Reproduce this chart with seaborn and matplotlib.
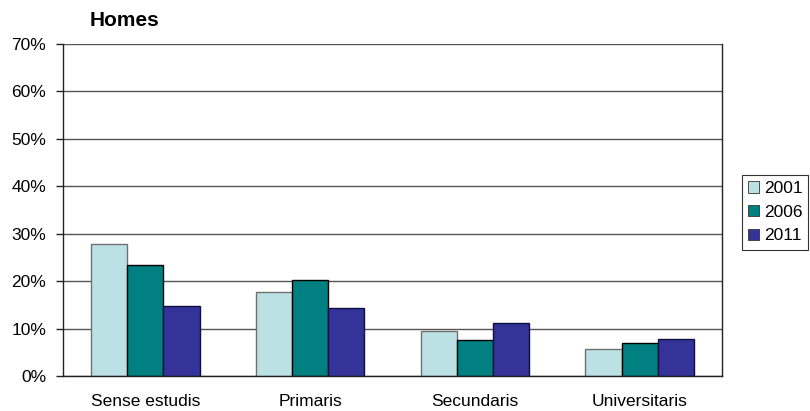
import matplotlib
matplotlib.use("Agg")
import matplotlib.pyplot as plt
import seaborn as sns
import pandas as pd
from matplotlib.ticker import FixedLocator, PercentFormatter

categories = ["Sense estudis", "Primaris", "Secundaris", "Universitaris"]
years = ["2001", "2006", "2011"]
values_2001 = [27.9, 17.8, 9.4, 5.7]
values_2006 = [23.5, 20.2, 7.5, 7.0]
values_2011 = [14.7, 14.3, 11.1, 7.8]
colors = ["#BCE1E5", "#008080", "#333399"]
edges = ["#707070", "#000000", "#101040"]

df = pd.DataFrame({
    "categoria": categories * 3,
    "any": [y for y in years for _ in categories],
    "valor": values_2001 + values_2006 + values_2011,
})

sns.set_theme(style="white")
plt.rcParams["font.family"] = ["Liberation Sans", "DejaVu Sans"]
plt.rcParams["text.color"] = "#000000"

W, H = 810, 411
fig = plt.figure(figsize=(W / 100, H / 100), dpi=100)
ax = fig.add_axes([63 / W, 1 - 376 / H, (722 - 63) / W, (376 - 44) / H])

sns.barplot(data=df, x="categoria", y="valor", hue="any", hue_order=years,
            palette=colors, width=0.66, ax=ax, saturation=1, legend=True)

for i, container in enumerate(ax.containers):
    for patch in container:
        patch.set_edgecolor(edges[i])
        patch.set_linewidth(1.0)

ax.set_xlim(-0.5, 3.5)
ax.set_ylim(0, 70)
ax.yaxis.set_major_locator(FixedLocator(range(0, 71, 10)))
ax.yaxis.set_major_formatter(PercentFormatter(decimals=0))
ax.grid(axis="y", color="#555555", linewidth=1.0)
ax.set_axisbelow(True)
ax.set_xlabel("")
ax.set_ylabel("")

for s in ax.spines.values():
    s.set_color("#222222")
    s.set_linewidth(1.0)
ax.spines["top"].set_visible(False)

# x ticks at the category boundaries, labels centred under the groups
ax.set_xticks([0, 1, 2, 3])
ax.set_xticklabels(categories, fontsize=12.5, color="#000000")
ax.tick_params(axis="x", length=0, pad=13)
ax.set_xticks([-0.5, 0.5, 1.5, 2.5, 3.5], minor=True)
ax.tick_params(axis="x", which="minor", length=5, direction="out", color="#222222", width=1)
ax.tick_params(axis="y", length=5, direction="out", color="#222222", width=1,
               labelsize=12.5, labelcolor="#000000", left=True, pad=7)

fig.text(90 / W, 1 - 21 / H, "Homes", fontsize=15, fontweight="bold",
         ha="left", va="center", color="#000000")

leg = ax.legend(loc="upper left", bbox_to_anchor=(742 / W, 1 - 175 / H),
                bbox_transform=fig.transFigure, frameon=True, fancybox=False,
                fontsize=12.5, handlelength=0.65, handleheight=0.65,
                handletextpad=0.25, borderpad=0.35, labelspacing=0.5,
                borderaxespad=0)
leg.get_frame().set_edgecolor("#000000")
leg.get_frame().set_linewidth(0.8)
for t in leg.get_texts():
    t.set_color("#000000")
for h in leg.legend_handles:
    h.set_edgecolor("#333333")
    h.set_linewidth(0.6)

fig.savefig("out.png", dpi=100)
